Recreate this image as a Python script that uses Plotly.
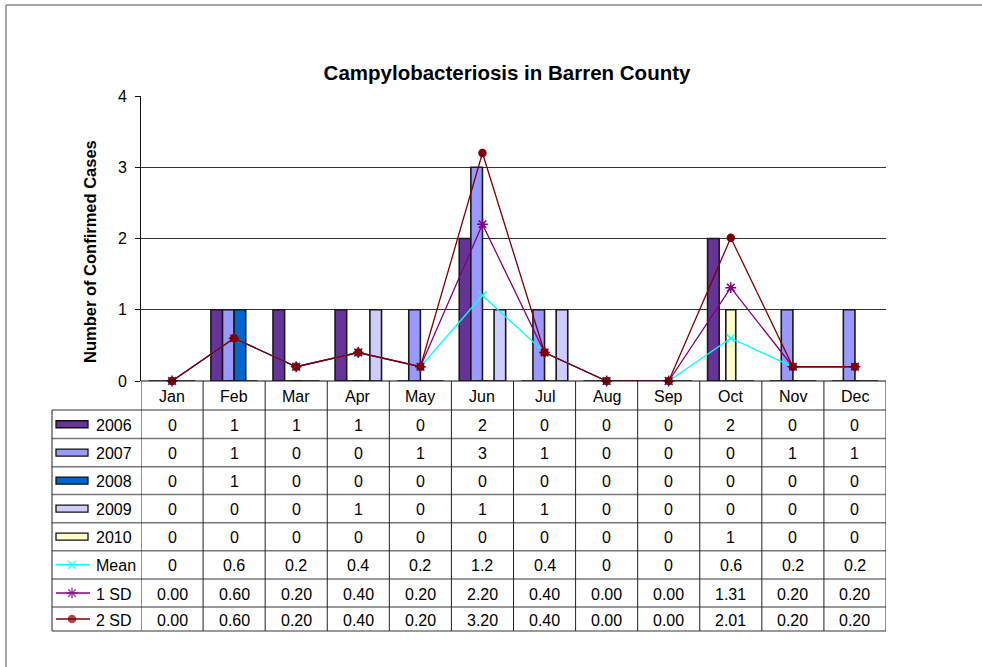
import plotly.graph_objects as go

W, H = 982, 667

months = ["Jan", "Feb", "Mar", "Apr", "May", "Jun", "Jul", "Aug", "Sep", "Oct", "Nov", "Dec"]
cases_2006 = [0, 1, 1, 1, 0, 2, 0, 0, 0, 2, 0, 0]
cases_2007 = [0, 1, 0, 0, 1, 3, 1, 0, 0, 0, 1, 1]
cases_2008 = [0, 1, 0, 0, 0, 0, 0, 0, 0, 0, 0, 0]
cases_2009 = [0, 0, 0, 1, 0, 1, 1, 0, 0, 0, 0, 0]
cases_2010 = [0, 0, 0, 0, 0, 0, 0, 0, 0, 1, 0, 0]
mean_cases = [0, 0.6, 0.2, 0.4, 0.2, 1.2, 0.4, 0, 0, 0.6, 0.2, 0.2]
sd1_cases = [0.00, 0.60, 0.20, 0.40, 0.20, 2.20, 0.40, 0.00, 0.00, 1.31, 0.20, 0.20]
sd2_cases = [0.00, 0.60, 0.20, 0.40, 0.20, 3.20, 0.40, 0.00, 0.00, 2.01, 0.20, 0.20]

FONT = "Arial, Liberation Sans, sans-serif"
GRID = "#333333"
TXT = 16


def px(x):
    return x / W


def py(y):
    return 1 - y / H


# bar series: name, values, colour, offset, width (category units)
bar_series = [
    ("2006", cases_2006, "#663399", -0.374, 0.187),
    ("2007", cases_2007, "#9999FF", -0.187, 0.187),
    ("2008", cases_2008, "#0066CC", 0.0, 0.187),
    ("2009", cases_2009, "#CCCCFF", 0.187, 0.187),
    ("2010", cases_2010, "#FFFFCC", -0.08, 0.16),
]
# line series: name, values, colour, marker symbol, marker size, label format
line_series = [
    ("Mean", mean_cases, "#00FFFF", "x-thin-open", 8, "{:g}"),
    ("1 SD", sd1_cases, "#800080", "asterisk-open", 9, "{:.2f}"),
    ("2 SD", sd2_cases, "#800000", "circle", 7, "{:.2f}"),
]

fig = go.Figure()
for name, vals, color, off, wid in bar_series:
    fig.add_trace(
        go.Bar(
            x=months, y=vals, name=name, offset=off, width=wid,
            marker=dict(color=color, line=dict(color="#1a1a1a", width=1.6)),
            showlegend=False,
        )
    )
for name, vals, color, sym, size, _ in line_series:
    fig.add_trace(
        go.Scatter(
            x=months, y=vals, name=name, mode="lines+markers", cliponaxis=False,
            line=dict(color=color, width=1.3),
            marker=dict(symbol=sym, size=size, color=color, line=dict(color=color, width=1.5)),
            showlegend=False,
        )
    )

# data table geometry (pixels)
tab_left, plot_left, plot_right = 52, 141, 886
header_top, header_bot = 381, 410
row_edges = [410, 438.5, 466.7, 494.5, 522.7, 550.7, 579, 607, 631]

shapes = []
annotations = []
# outer chart border
shapes.append(dict(type="line", xref="paper", yref="paper", x0=px(6), x1=1.0, y0=py(5), y1=py(5),
                   line=dict(color="#8a8a8a", width=1.5)))
shapes.append(dict(type="line", xref="paper", yref="paper", x0=px(6), x1=px(6), y0=py(5), y1=0,
                   line=dict(color="#8a8a8a", width=1.5)))
# horizontal table lines
shapes.append(dict(type="line", xref="paper", yref="paper", x0=px(plot_left), x1=px(plot_right),
                   y0=py(header_top), y1=py(header_top), line=dict(color="#111111", width=1)))
for e in row_edges:
    shapes.append(dict(type="line", xref="paper", yref="paper", x0=px(tab_left), x1=px(plot_right),
                       y0=py(e), y1=py(e), line=dict(color="#777777", width=1.5)))
# vertical table lines
shapes.append(dict(type="line", xref="paper", yref="paper", x0=px(tab_left), x1=px(tab_left),
                   y0=py(row_edges[0]), y1=py(row_edges[-1]), line=dict(color="#222222", width=1)))
for i in range(len(months) + 1):
    shapes.append(dict(type="line", xref="x", yref="paper", x0=i - 0.5, x1=i - 0.5,
                       y0=py(header_top), y1=py(row_edges[-1]), line=dict(color="#222222", width=1)))

# month header
for m in months:
    annotations.append(dict(x=m, y=py((header_top + header_bot) / 2 + 1), xref="x", yref="paper",
                            xanchor="center", yanchor="middle",
                            text=m, showarrow=False, font=dict(size=TXT, color="black")))

rows = [(n, v, "{:d}") for n, v, _, _, _ in bar_series] + [(n, v, f) for n, v, _, _, _, f in line_series]
for r, (name, vals, fmt) in enumerate(rows):
    yc = (row_edges[r] + row_edges[r + 1]) / 2 + 1
    annotations.append(dict(x=px(94), y=py(yc), xref="paper", yref="paper", xanchor="left",
                            yanchor="middle", text=name, showarrow=False,
                            font=dict(size=TXT, color="black")))
    for m, v in zip(months, vals):
        annotations.append(dict(x=m, y=py(yc), xref="x", yref="paper", xanchor="center",
                                yanchor="middle", text=fmt.format(v), showarrow=False,
                                font=dict(size=TXT, color="black")))

# y axis title
annotations.append(dict(x=px(90), y=py(252), xref="paper", yref="paper", xanchor="center",
                        yanchor="middle", textangle=-90, showarrow=False,
                        text="<b>Number of Confirmed Cases</b>", font=dict(size=16.5, color="black")))

# legend keys in first table column
for r, (name, vals, color, off, wid) in enumerate(bar_series):
    yc = (row_edges[r] + row_edges[r + 1]) / 2
    shapes.append(dict(type="rect", xref="paper", yref="paper", x0=px(56), x1=px(88),
                       y0=py(yc - 3.5), y1=py(yc + 3.5), fillcolor=color,
                       line=dict(color="#111111", width=1.3)))
for k, (name, vals, color, sym, size, _) in enumerate(line_series):
    r = len(bar_series) + k
    yc = (row_edges[r] + row_edges[r + 1]) / 2
    fig.add_trace(
        go.Scatter(
            x=[56, 72, 90], y=[yc, yc, yc], mode="lines+markers", xaxis="x2", yaxis="y2",
            cliponaxis=False, showlegend=False, hoverinfo="skip",
            line=dict(color=color, width=1.5),
            marker=dict(symbol=sym, size=[0, size, 0], color=color, line=dict(color=color, width=1.5)),
        )
    )

fig.update_layout(
    width=W, height=H, autosize=False,
    margin=dict(l=0, r=0, t=0, b=0, pad=0, autoexpand=False),
    paper_bgcolor="white", plot_bgcolor="rgba(0,0,0,0)",
    font=dict(family=FONT, color="black"),
    barmode="overlay",
    title=dict(text="<b>Campylobacteriosis in Barren County</b>", x=px(507), y=py(73),
               xanchor="center", yanchor="middle", font=dict(size=20.5, family=FONT, color="black")),
    xaxis=dict(domain=[px(plot_left), px(plot_right)], type="category", range=[-0.5, 11.5],
               showticklabels=False, showgrid=False, zeroline=False, ticks="", anchor="y"),
    yaxis=dict(domain=[py(header_top), py(96)], range=[0, 4], dtick=1, showgrid=True,
               gridcolor=GRID, gridwidth=1, zeroline=False, showline=True, linecolor="#111111",
               linewidth=1, ticks="outside", ticklen=5, tickcolor="#111111",
               ticklabelstandoff=5, tickfont=dict(size=16), anchor="x", automargin=False),
    xaxis2=dict(domain=[0, 1], range=[0, W], visible=False, anchor="y2"),
    yaxis2=dict(domain=[0, 1], range=[H, 0], visible=False, anchor="x2"),
    shapes=shapes,
    annotations=annotations,
)

fig.write_html("out.html", config={"displayModeBar": False},
               post_script="document.body.style.margin='0';")
